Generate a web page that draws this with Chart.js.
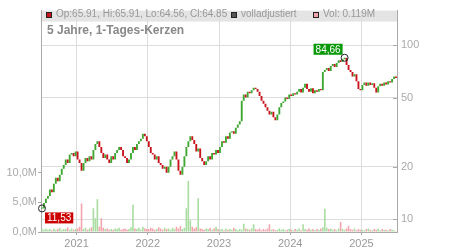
<!DOCTYPE html>
<html>
<head>
<meta charset="utf-8">
<script src="https://cdn.jsdelivr.net/npm/chart.js@4.4.1/dist/chart.umd.min.js"></script>
<style>
  html, body { margin: 0; padding: 0; background: #fff; }
  #wrap { width: 450px; height: 250px; }
</style>
</head>
<body>
<div id="wrap"><canvas id="chart" width="450" height="250"></canvas></div>
<script>
// 3 Punkte pro Monat, Juli 2020 bis Juni 2025
const startYear = 2020, startMonth = 7, perMonth = 3;

const closes = [
  11.53, 12.4, 13.1,  13.6, 14.8, 14.3,  16.0, 17.3, 16.5,  18.0, 19.5, 20.5,  22.0, 21.0, 23.5,  24.0, 23.0, 24.5,
  22.0, 21.0, 19.0,  21.0, 22.5, 21.5,  23.0, 22.0, 25.0,  27.0, 28.0, 26.0,  24.0, 22.5, 23.5,  22.0, 21.0, 23.0,
  22.0, 24.0, 25.0,  26.0, 25.0, 23.0,  22.5, 21.0, 22.0,  24.0, 26.0, 25.0,  27.0, 28.0, 29.0,  31.0, 30.0, 28.0,
  26.0, 24.0, 23.5,  22.0, 23.0, 21.0,  20.5, 19.5, 20.0,  18.5, 20.0, 22.0,  23.0, 24.5, 22.0,  19.0, 18.0, 20.0,
  23.0, 26.0, 28.0,  30.0, 28.5, 27.0,  24.5, 25.5, 22.5,  21.5, 20.5, 21.5,  23.0, 22.0, 24.0,  23.5, 25.0, 24.0,
  26.0, 28.0, 27.5,  30.0, 29.0, 31.5,  32.0, 31.0, 33.5,  35.0, 36.5, 48.0,  52.0, 50.0, 54.0,  53.0, 55.0, 57.0,
  56.0, 54.0, 51.0,  48.0, 46.0, 44.0,  42.0, 40.0, 41.5,  38.5, 37.0, 40.0,  44.0, 46.5, 47.5,  50.0, 49.0, 52.0,
  51.0, 53.0, 52.0,  54.0, 56.0, 53.5,  57.0, 60.0, 56.0,  54.0, 56.5, 53.0,  55.0, 54.0, 56.0,  55.0, 70.0, 72.0,
  74.0, 71.0, 76.0,  78.0, 75.0, 79.0,  82.0, 80.0, 83.0,  84.66, 77.0, 72.0,  70.0, 66.0, 68.0,  62.0, 56.0, 55.0,
  59.0, 61.0, 58.5,  61.0, 59.0, 60.5,  57.0, 53.5, 58.0,  60.0, 58.5, 61.0,  59.5, 62.0, 61.0,  64.0, 66.0, 64.85
];

// Volumen in Mio.
const volumes = [
  0.5, 0.4, 0.6,  0.4, 0.5, 0.3,  0.6, 0.4, 0.5,  0.7, 0.4, 0.5,  0.5, 0.8, 0.4,  0.6, 0.4, 0.5,
  0.6, 0.9, 4.8,  0.5, 0.7, 0.4,  0.6, 0.8, 4.0,  2.3, 5.5, 0.9,  2.3, 0.7, 0.5,  0.6, 0.4, 0.5,
  0.4, 0.6, 0.5,  0.7, 0.4, 0.5,  0.6, 0.4, 0.5,  0.8, 4.6, 0.6,  0.5, 0.7, 0.4,  0.9, 0.6, 0.5,
  0.5, 0.7, 0.6,  0.4, 0.5, 0.8,  0.6, 0.4, 0.7,  0.5, 0.6, 0.4,  0.7, 0.5, 0.9,  0.6, 1.0, 0.5,
  0.7, 4.0, 8.6,  2.0, 0.9, 0.6,  0.8, 5.7, 0.6,  0.5, 0.4, 0.6,  0.5, 0.7, 0.4,  0.6, 0.9, 0.5,
  0.4, 0.5, 0.3,  0.6, 0.4, 0.5,  0.4, 0.7, 0.5,  0.3, 0.5, 0.4,  1.4, 0.6, 0.5,  0.4, 0.6, 1.3,
  0.5, 0.4, 0.6,  0.3, 0.5, 0.4,  0.6, 1.3, 0.4,  0.5, 0.3, 0.4,  0.6, 0.4, 0.5,  0.3, 0.4, 0.5,
  0.4, 0.3, 0.5,  0.4, 0.6, 0.3,  1.3, 0.5, 0.4,  0.6, 0.4, 0.5,  0.3, 0.5, 0.4,  0.6, 0.8, 3.9,
  0.7, 0.5, 0.6,  0.4, 0.5, 0.3,  0.6, 1.7, 0.5,  0.4, 0.6, 1.0,  0.5, 0.4, 0.6,  0.3, 0.5, 0.4,
  0.4, 0.3, 0.5,  0.6, 0.4, 0.3,  0.5, 0.4, 0.6,  0.3, 0.5, 0.4,  0.4, 0.3, 0.5,  0.4, 0.3, 0.119
];

const yearLabels = ['2021', '2022', '2023', '2024', '2025'];
const priceTicks = [10, 20, 50, 100];
const volumeTicks = [0, 5, 10];
const lastOHLC = [65.91, 65.91, 64.56, 64.85];

const upColor = '#3fa832';
const downColor = '#c8141c';
const volUp = '#a8dca0';
const volDown = '#f2a4ac';
const FONT = "'Liberation Sans', Arial, sans-serif";

const opens = closes.map((c, i) => i === 0 ? c : closes[i - 1]);
const isUp = closes.map((c, i) => c >= opens[i]);
const yearPos = yearLabels.map(y => ((+y - startYear) * 12 - (startMonth - 1)) * perMonth);

function fmt(v) {
    return v.toFixed(2).replace('.', ',');
}

const deco = {
    id: 'deco',
    beforeDraw(chart) {
        const ctx = chart.ctx, a = chart.chartArea;
        ctx.save();
        ctx.fillStyle = '#e4e4e4';
        ctx.fillRect(a.left, a.top, a.right - a.left, 11);
        ctx.restore();
    },
    afterDraw(chart) {
        const ctx = chart.ctx, a = chart.chartArea;
        const xs = chart.scales.x, ys = chart.scales.y;
        ctx.save();

        // Kopfzeile
        ctx.font = '10px ' + FONT;
        ctx.textBaseline = 'alphabetic';
        const legend = [
            [46, downColor, 'Op:' + lastOHLC[0] + ', Hi:' + lastOHLC[1] + ', Lo:' + lastOHLC[2] + ', Cl:' + lastOHLC[3]],
            [231, '#555', 'volladjustiert'],
            [313, volDown, 'Vol: ' + volumes[volumes.length - 1].toFixed(3) + 'M']
        ];
        legend.forEach(l => {
            ctx.fillStyle = l[1];
            ctx.fillRect(l[0] + 0.5, 12.5, 5, 5);
            ctx.strokeStyle = '#222';
            ctx.lineWidth = 1;
            ctx.strokeRect(l[0] + 0.5, 12.5, 5, 5);
            ctx.fillStyle = '#999';
            ctx.fillText(l[2], l[0] + 10, 17);
        });

        // Titel
        ctx.font = 'bold 12px ' + FONT;
        ctx.fillStyle = '#888';
        ctx.fillText('5 Jahre, 1-Tages-Kerzen', 47, 34);

        // kleine Striche an der rechten Achse
        ctx.strokeStyle = '#aaa';
        priceTicks.forEach(t => {
            const py = Math.round(ys.getPixelForValue(t)) + 0.5;
            ctx.beginPath();
            ctx.moveTo(a.right - 4, py);
            ctx.lineTo(a.right, py);
            ctx.stroke();
        });

        // Hoch / Tief Markierungen
        const hiIdx = closes.indexOf(Math.max(...closes));
        const loIdx = closes.indexOf(Math.min(...closes));
        ctx.font = '10px ' + FONT;
        [[hiIdx, '#0a990a', true], [loIdx, '#cc0000', false]].forEach(m => {
            const cx = Math.max(xs.getPixelForValue(m[0] + 0.5), a.left);
            const cy = ys.getPixelForValue(closes[m[0]]);
            const txt = fmt(closes[m[0]]);
            const w = ctx.measureText(txt).width + 4;
            let bx, by;
            if (m[2]) { bx = cx - 2 - w; by = cy - 3 - 11; }
            else { bx = cx + 3; by = cy + 4; }
            ctx.fillStyle = m[1];
            ctx.fillRect(bx, by, w, 11);
            ctx.fillStyle = '#fff';
            ctx.textBaseline = 'middle';
            ctx.fillText(txt, bx + 2, by + 6);
            ctx.beginPath();
            ctx.arc(cx, cy, 3.5, 0, Math.PI * 2);
            ctx.strokeStyle = '#222';
            ctx.lineWidth = 1;
            ctx.stroke();
        });
        ctx.restore();
    }
};

new Chart(document.getElementById('chart'), {
    type: 'bar',
    data: {
        datasets: [{
            label: 'Volumen',
            yAxisID: 'yv',
            data: volumes.map((v, i) => ({ x: i + 0.5, y: v })),
            backgroundColor: isUp.map(u => u ? volUp : volDown),
            grouped: false,
            order: 2,
            barPercentage: 0.8,
            categoryPercentage: 1
        }, {
            label: 'Kurs',
            yAxisID: 'y',
            data: closes.map((c, i) => ({ x: i + 0.5, y: [opens[i], c] })),
            backgroundColor: isUp.map(u => u ? upColor : downColor),
            grouped: false,
            order: 1,
            barPercentage: 0.95,
            categoryPercentage: 1,
            minBarLength: 1
        }]
    },
    options: {
        responsive: false,
        animation: false,
        devicePixelRatio: 1,
        layout: { padding: { top: 8, left: 0, right: 0, bottom: 0 } },
        plugins: { legend: { display: false }, tooltip: { enabled: false }, title: { display: false } },
        scales: {
            x: {
                type: 'linear',
                offset: false,
                min: 0,
                max: closes.length,
                afterBuildTicks: s => { s.ticks = yearPos.map(v => ({ value: v })); },
                afterFit: s => { s.height = 18; },
                ticks: {
                    color: '#999', font: { size: 11, family: FONT }, padding: 2,
                    maxRotation: 0, autoSkip: false,
                    callback: v => yearLabels[yearPos.indexOf(v)]
                },
                grid: { offset: false, color: '#ddd', tickColor: '#aaa', tickLength: 3 },
                border: { color: '#aaa' }
            },
            y: {
                type: 'logarithmic',
                position: 'right',
                min: 8.44,
                max: 158,
                afterBuildTicks: s => { s.ticks = priceTicks.map(v => ({ value: v })); },
                afterFit: s => { s.width = 53; },
                ticks: { color: '#aaa', font: { size: 11, family: FONT }, padding: 4, callback: v => String(v) },
                grid: { color: '#ddd', drawTicks: false },
                border: { color: '#aaa' }
            },
            yv: {
                type: 'linear',
                position: 'left',
                min: 0,
                max: 37.3,
                afterBuildTicks: s => { s.ticks = volumeTicks.map(v => ({ value: v })); },
                afterFit: s => { s.width = 41; },
                ticks: { color: '#aaa', font: { size: 11, family: FONT }, padding: 1, callback: v => v.toFixed(1).replace('.', ',') + 'M' },
                grid: { drawOnChartArea: false, tickColor: '#aaa', tickLength: 3 },
                border: { color: '#aaa' }
            }
        }
    },
    plugins: [deco]
});
</script>
</body>
</html>
